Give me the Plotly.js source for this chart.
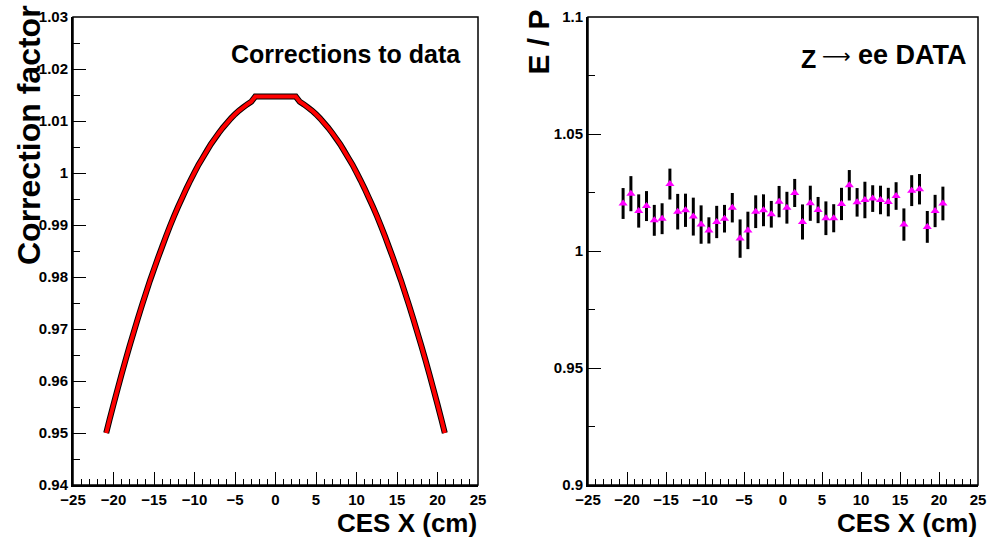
<!DOCTYPE html>
<html><head><meta charset="utf-8">
<script src="https://cdn.plot.ly/plotly-3.0.1.min.js"></script>
<style>html,body{margin:0;padding:0;background:#fff}#c{width:990px;height:547px}</style>
</head><body><div id="c"></div>
<script>
// Left panel: correction factor vs CES X
const corrX = [-20.9,-20.5,-20,-19.5,-19,-18.5,-18,-17.5,-17,-16.5,-16,-15.5,-15,-14.5,-14,-13.5,-13,-12.5,-12,-11.5,-11,-10.5,-10,-9.5,-9,-8.5,-8,-7.5,-7,-6.5,-6,-5.5,-5,-4.5,-4,-3.5,-3,
  -2.5,-2,-1.5,-1,-0.5,0,0.5,1,1.5,2,2.5,
  3,3.5,4,4.5,5,5.5,6,6.5,7,7.5,8,8.5,9,9.5,10,10.5,11,11.5,12,12.5,13,13.5,14,14.5,15,15.5,16,16.5,17,17.5,18,18.5,19,19.5,20,20.5,20.9];
const corrY = [0.950,0.9525,0.9555,0.9584,0.9613,0.9641,0.9668,0.9694,0.9720,0.9745,0.9769,0.9793,0.9815,0.9837,0.9858,0.9879,0.9899,0.9918,0.9936,0.9953,0.9970,0.9986,1.0001,1.0016,1.0029,1.0042,1.0055,1.0066,1.0077,1.0087,1.0096,1.0105,1.0113,1.0120,1.0126,1.0132,1.0137,
  1.0147,1.0147,1.0147,1.0147,1.0147,1.0147,1.0147,1.0147,1.0147,1.0147,1.0147,
  1.0137,1.0132,1.0126,1.0120,1.0113,1.0105,1.0096,1.0087,1.0077,1.0066,1.0055,1.0042,1.0029,1.0016,1.0001,0.9986,0.9970,0.9953,0.9936,0.9918,0.9899,0.9879,0.9858,0.9837,0.9815,0.9793,0.9769,0.9745,0.9720,0.9694,0.9668,0.9641,0.9613,0.9584,0.9555,0.9525,0.950];

// Right panel: E/P for Z->ee data
const epX = [-20.5,-19.5,-18.5,-17.5,-16.5,-15.5,-14.5,-13.5,-12.5,-11.5,-10.5,-9.5,-8.5,-7.5,-6.5,-5.5,-4.5,-3.5,-2.5,-1.5,-0.5,0.5,1.5,2.5,3.5,4.5,5.5,6.5,7.5,8.5,9.5,10.5,11.5,12.5,13.5,14.5,15.5,16.5,17.5,18.5,19.5,20.5];
const epY = [1.0203,1.0245,1.0171,1.0192,1.0131,1.0138,1.0286,1.0168,1.0174,1.0147,1.0113,1.0088,1.0124,1.0138,1.0185,1.0053,1.0088,1.0168,1.0174,1.0157,1.0211,1.0185,1.0248,1.0124,1.0204,1.0175,1.0140,1.0140,1.0201,1.0281,1.0208,1.0218,1.0224,1.0218,1.0209,1.0235,1.0113,1.0258,1.0264,1.0103,1.0171,1.0203];
const epErr = [0.0066,0.0075,0.0071,0.0064,0.0066,0.0066,0.0066,0.0076,0.0071,0.0081,0.0082,0.0056,0.0069,0.0059,0.0063,0.0082,0.0080,0.0070,0.0068,0.0057,0.0067,0.0068,0.0060,0.0075,0.0075,0.0056,0.0072,0.0060,0.0069,0.0065,0.0061,0.0078,0.0057,0.0061,0.0061,0.0059,0.0069,0.0066,0.0065,0.0068,0.0069,0.0072];

// Tick labels
const xTickVals = [-25,-20,-15,-10,-5,0,5,10,15,20,25];
const xTickText = ['\u221225','\u221220','\u221215','\u221210','\u22125','0','5','10','15','20','25'];
const yLTickVals = [0.94,0.95,0.96,0.97,0.98,0.99,1.00,1.01,1.02,1.03];
const yLTickText = ['0.94','0.95','0.96','0.97','0.98','0.99','1','1.01','1.02','1.03'];
const yRTickVals = [0.9,0.95,1.0,1.05,1.1];
const yRTickText = ['0.9','0.95','1','1.05','1.1'];

const FF = 'Liberation Sans, Arial, Helvetica, sans-serif';
const tickFont = {family: FF, size: 15, color: '#000', weight: 'bold'};
const bold = a => a.map(s => '<b>' + s + '</b>');

const traces = [
  {x: corrX, y: corrY, xaxis: 'x', yaxis: 'y', mode: 'lines', type: 'scatter',
   line: {color: '#000', width: 6, simplify: false}, hoverinfo: 'skip', showlegend: false},
  {x: corrX, y: corrY, xaxis: 'x', yaxis: 'y', mode: 'lines', type: 'scatter',
   line: {color: '#ff0000', width: 4, simplify: false}, showlegend: false},
  {x: epX, y: epY, xaxis: 'x2', yaxis: 'y2', mode: 'markers', type: 'scatter',
   error_y: {type: 'data', array: epErr, visible: true, color: '#000', thickness: 3, width: 0},
   marker: {symbol: 'triangle-up', size: 8, color: '#ff00ff'}, showlegend: false}
];

const xd1 = [73/990, 478/990], xd2 = [588/990, 978/990];
const yd = [1 - 485/547, 1 - 17/547];

function xax(domain, anchor) {
  return {domain: domain, anchor: anchor, range: [-25, 25], tickvals: xTickVals, ticktext: bold(xTickText),
    ticks: 'inside', ticklen: 13, tickwidth: 1, tickcolor: '#000', showgrid: false, zeroline: false,
    showline: true, linewidth: 2, linecolor: '#000', tickfont: tickFont,
    minor: {dtick: 1, tick0: 0, ticks: 'inside', ticklen: 6, tickwidth: 1, tickcolor: '#000', showgrid: false}};
}
function yax(domain, anchor, range, tv, tt, minorDt) {
  return {domain: domain, anchor: anchor, range: range, tickvals: tv, ticktext: bold(tt),
    ticks: 'inside', ticklen: 13, tickwidth: 1, tickcolor: '#000', showgrid: false, zeroline: false,
    showline: true, linewidth: 2, linecolor: '#000', tickfont: tickFont,
    minor: {dtick: minorDt, tick0: 0, ticks: 'inside', ticklen: 7, tickwidth: 1, tickcolor: '#000', showgrid: false}};
}

const layout = {
  width: 990, height: 547, margin: {l: 0, r: 0, t: 0, b: 0},
  paper_bgcolor: '#fff', plot_bgcolor: '#fff', showlegend: false,
  xaxis: xax(xd1, 'y'),
  yaxis: yax(yd, 'x', [0.94, 1.03], yLTickVals, yLTickText, 0.005),
  xaxis2: xax(xd2, 'y2'),
  yaxis2: yax(yd, 'x2', [0.9, 1.1], yRTickVals, yRTickText, 0.025),
  shapes: [
    {type: 'rect', xref: 'paper', yref: 'paper', x0: xd1[0], x1: xd1[1], y0: yd[0], y1: yd[1], line: {color: '#000', width: 1.5}},
    {type: 'rect', xref: 'paper', yref: 'paper', x0: xd2[0], x1: xd2[1], y0: yd[0], y1: yd[1], line: {color: '#000', width: 1.5}}
  ],
  annotations: [
    {xref: 'paper', yref: 'paper', x: 479/990, y: 1 - 523/547, xanchor: 'right', yanchor: 'middle', showarrow: false,
     text: '<b>CES X (cm)</b>', font: {family: FF, size: 26, color: '#000'}},
    {xref: 'paper', yref: 'paper', x: 979/990, y: 1 - 523/547, xanchor: 'right', yanchor: 'middle', showarrow: false,
     text: '<b>CES X (cm)</b>', font: {family: FF, size: 26, color: '#000'}},
    {xref: 'paper', yref: 'paper', x: 29/990, y: 1 - 3/547, xanchor: 'center', yanchor: 'top', showarrow: false, textangle: -90,
     text: '<b>Correction factor</b>', font: {family: FF, size: 32, color: '#000'}},
    {xref: 'paper', yref: 'paper', x: 538/990, y: 1 - 8/547, xanchor: 'center', yanchor: 'top', showarrow: false, textangle: -90,
     text: '<b>E / P</b>', font: {family: FF, size: 30, color: '#000'}},
    {xref: 'paper', yref: 'paper', x: 463/990, y: 1 - 54/547, xanchor: 'right', yanchor: 'middle', showarrow: false,
     text: '<b>Corrections to data</b>', font: {family: FF, size: 25, color: '#000'}},
    {xref: 'paper', yref: 'paper', x: 808/990, y: 1 - 59/547, xanchor: 'center', yanchor: 'middle', showarrow: false,
     text: '<b>Z</b>', font: {family: FF, size: 25, color: '#000'}},
    {xref: 'paper', yref: 'paper', x: 836/990, y: 1 - 56/547, xanchor: 'center', yanchor: 'middle', showarrow: false,
     text: '\u27F6', font: {family: 'DejaVu Sans', size: 20, color: '#000'}},
    {xref: 'paper', yref: 'paper', x: 969/990, y: 1 - 55/547, xanchor: 'right', yanchor: 'middle', showarrow: false,
     text: '<b>ee DATA</b>', font: {family: FF, size: 27, color: '#000'}}
  ]
};

Plotly.newPlot('c', traces, layout, {staticPlot: true, displayModeBar: false});
</script></body></html>
